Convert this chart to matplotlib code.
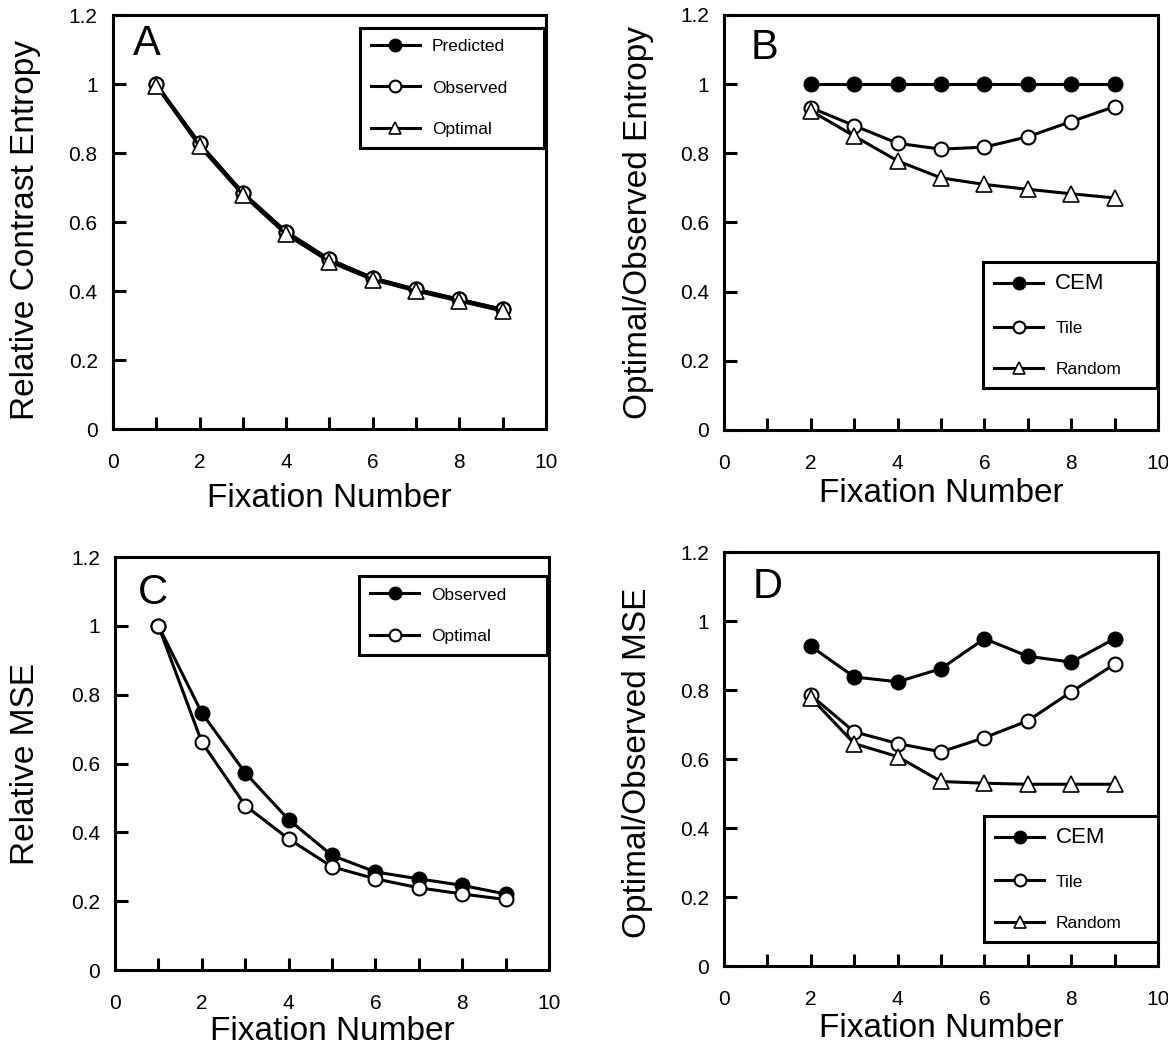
"""
Entropy / MSE vs fixation number, four panels.
"""

import numpy as np
import matplotlib.pyplot as plt
from matplotlib.ticker import FixedLocator

plt.rcParams['font.family'] = ['Liberation Sans', 'DejaVu Sans']

# panel A
fix_a = [1, 2, 3, 4, 5, 6, 7, 8, 9]
a_predicted = [1.0, 0.828, 0.685, 0.572, 0.492, 0.438, 0.405, 0.376, 0.347]
a_observed = [1.0, 0.828, 0.685, 0.572, 0.492, 0.438, 0.405, 0.376, 0.347]
a_optimal = [0.995, 0.82, 0.679, 0.564, 0.485, 0.433, 0.400, 0.371, 0.342]

# panel B
fix_b = [2, 3, 4, 5, 6, 7, 8, 9]
b_cem = [1.0, 1.0, 1.0, 1.0, 1.0, 1.0, 1.0, 1.0]
b_tile = [0.932, 0.880, 0.829, 0.812, 0.818, 0.848, 0.892, 0.935]
b_random = [0.923, 0.850, 0.778, 0.729, 0.710, 0.696, 0.683, 0.671]

# panel C
fix_c = [1, 2, 3, 4, 5, 6, 7, 8, 9]
c_observed = [1.0, 0.747, 0.573, 0.437, 0.333, 0.285, 0.265, 0.246, 0.221]
c_optimal = [1.0, 0.662, 0.478, 0.381, 0.300, 0.265, 0.239, 0.221, 0.205]

# panel D
fix_d = [2, 3, 4, 5, 6, 7, 8, 9]
d_cem = [0.927, 0.838, 0.824, 0.862, 0.949, 0.898, 0.881, 0.949]
d_tile = [0.785, 0.679, 0.645, 0.621, 0.662, 0.711, 0.795, 0.875]
d_random = [0.778, 0.645, 0.607, 0.535, 0.530, 0.527, 0.527, 0.527]

y_ticks = [0, 0.2, 0.4, 0.6, 0.8, 1.0, 1.2]
y_ticklabels = ['0', '0.2', '0.4', '0.6', '0.8', '1', '1.2']
x_ticks = [0, 2, 4, 6, 8, 10]

LW = 2.2
FILLED = dict(color='black', lw=LW, marker='o', ms=10, mfc='black', mec='black', mew=1.5)
OPEN = dict(color='black', lw=LW, marker='o', ms=10, mfc='white', mec='black', mew=1.5)
TRI = dict(color='black', lw=LW, marker='^', ms=11, mfc='white', mec='black', mew=1.2)


def style_axes(ax, ylabel, letter, letter_pos, ylab_pos, xlab_y):
    ax.set_xlim(0, 10)
    ax.set_ylim(0, 1.2)
    ax.set_yticks(y_ticks)
    ax.set_yticklabels(y_ticklabels)
    ax.set_xticks(x_ticks)
    ax.xaxis.set_minor_locator(FixedLocator([1, 3, 5, 7, 9]))
    ax.tick_params(axis='x', which='both', direction='in', length=9, width=2.2,
                   pad=17, labelsize=15, top=False)
    ax.tick_params(axis='y', which='major', direction='in', length=9, width=2.2,
                   pad=11, labelsize=15, right=False)
    for sp in ax.spines.values():
        sp.set_linewidth(2.2)
    ax.set_ylabel(ylabel, fontsize=24, va='center')
    ax.yaxis.set_label_coords(ylab_pos[0], ylab_pos[1])
    ax.set_xlabel('Fixation Number', fontsize=24, va='center')
    ax.xaxis.set_label_coords(0.5, xlab_y)
    ax.text(letter_pos[0], letter_pos[1], letter, transform=ax.transAxes,
            fontsize=30, va='top', ha='left')


def add_legend(ax, loc, box, big_first=False):
    leg = ax.legend(loc=loc, bbox_to_anchor=box, mode='expand', borderaxespad=0,
                    fontsize=12.5, handlelength=2.8, handletextpad=0.7,
                    labelspacing=1.5, borderpad=0.65, markerscale=0.85,
                    fancybox=False, framealpha=1, edgecolor='black')
    leg.get_frame().set_linewidth(2.2)
    if big_first:
        leg.get_texts()[0].set_fontsize(16)
    return leg


fig = plt.figure(figsize=(11.68, 10.48), dpi=100)
axA = fig.add_axes([0.0967, 0.5906, 0.3707, 0.395])
axB = fig.add_axes([0.6199, 0.5897, 0.3716, 0.396])
axC = fig.add_axes([0.0985, 0.0744, 0.3716, 0.394])
axD = fig.add_axes([0.6199, 0.0782, 0.3716, 0.395])

# A
axA.plot(fix_a, a_predicted, label='Predicted', **FILLED)
axA.plot(fix_a, a_observed, label='Observed', **OPEN)
axA.plot(fix_a, a_optimal, label='Optimal', **TRI)
style_axes(axA, 'Relative Contrast Entropy', 'A', (0.046, 0.978), (-0.203, 0.48), -0.168)
add_legend(axA, 'upper right', (0.570, 0.969, 0.425, 0))

# B
axB.plot(fix_b, b_cem, label='CEM', **FILLED)
axB.plot(fix_b, b_tile, label='Tile', **OPEN)
axB.plot(fix_b, b_random, label='Random', **TRI)
style_axes(axB, 'Optimal/Observed Entropy', 'B', (0.062, 0.968), (-0.198, 0.5), -0.152)
add_legend(axB, 'lower right', (0.597, 0.101, 0.400, 0), big_first=True)

# C
axC.plot(fix_c, c_observed, label='Observed', **FILLED)
axC.plot(fix_c, c_optimal, label='Optimal', **OPEN)
style_axes(axC, 'Relative MSE', 'C', (0.053, 0.962), (-0.207, 0.5), -0.148)
add_legend(axC, 'upper right', (0.562, 0.954, 0.434, 0))

# D
axD.plot(fix_d, d_cem, label='CEM', **FILLED)
axD.plot(fix_d, d_tile, label='Tile', **OPEN)
axD.plot(fix_d, d_random, label='Random', **TRI)
style_axes(axD, 'Optimal/Observed MSE', 'D', (0.066, 0.963), (-0.2, 0.49), -0.152)
add_legend(axD, 'lower right', (0.599, 0.058, 0.400, 0), big_first=True)

plt.savefig('out.png', dpi=100)
